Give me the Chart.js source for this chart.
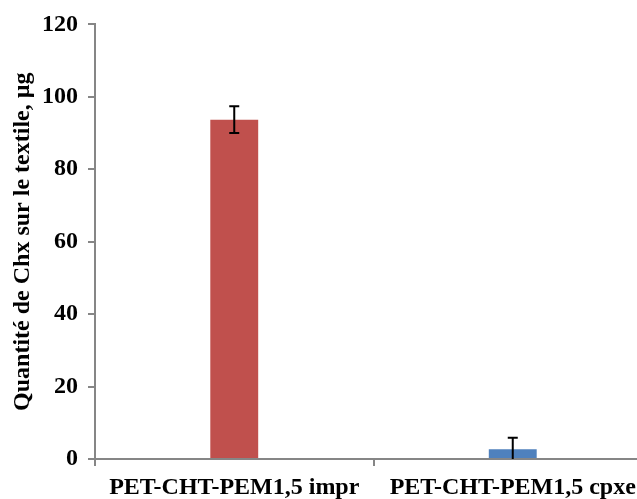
<!DOCTYPE html>
<html>
<head>
<meta charset="utf-8">
<script src="https://cdn.jsdelivr.net/npm/chart.js@4"></script>
<style>
    html, body { margin: 0; padding: 0; background: #fff; overflow: hidden; }
    #wrap { width: 652px; height: 499px; position: relative; }
</style>
</head>
<body>
<div id="wrap"><canvas id="barChart"></canvas></div>
<script>
const categories = ['PET-CHT-PEM1,5 impr', 'PET-CHT-PEM1,5 cpxe'];
const values = [93.7, 2.7];
const errors = [3.7, 3.2];
const barColors = ['#C0504D', '#4F81BD'];
const yTicks = [0, 20, 40, 60, 80, 100, 120];

const axisColor = '#868686';
const font = 'Liberation Serif';

// error bars drawn through the y scale
const errorBars = {
    id: 'errorBars',
    afterDatasetsDraw(chart) {
        const ctx = chart.ctx;
        const meta = chart.getDatasetMeta(0);
        const y = chart.scales.y;
        ctx.save();
        ctx.strokeStyle = '#000';
        ctx.lineWidth = 2;
        meta.data.forEach((bar, i) => {
            const top = y.getPixelForValue(values[i] + errors[i]);
            const low = Math.max(0, values[i] - errors[i]);
            const bottom = y.getPixelForValue(low);
            ctx.beginPath();
            ctx.moveTo(bar.x, top);
            ctx.lineTo(bar.x, bottom);
            ctx.moveTo(bar.x - 5, top);
            ctx.lineTo(bar.x + 5, top);
            if (low > 0) {
                ctx.moveTo(bar.x - 5, bottom);
                ctx.lineTo(bar.x + 5, bottom);
            }
            ctx.stroke();
        });
        ctx.restore();
    }
};

const ctx = document.getElementById('barChart').getContext('2d');
new Chart(ctx, {
    type: 'bar',
    data: {
        labels: categories,
        datasets: [{
            data: values,
            backgroundColor: barColors,
            categoryPercentage: 1,
            barPercentage: 0.172
        }]
    },
    options: {
        responsive: true,
        maintainAspectRatio: false,
        animation: false,
        layout: { padding: { top: 19, right: 0, left: 0, bottom: 0 } },
        plugins: {
            legend: { display: false },
            tooltip: { enabled: false }
        },
        scales: {
            x: {
                afterFit: scale => { scale.height = 40; },
                border: { color: axisColor, width: 2 },
                grid: { display: true, drawOnChartArea: false, drawTicks: true, tickLength: 7, color: axisColor, lineWidth: 2, offset: true },
                ticks: { color: '#000', padding: 7, font: { family: font, size: 24, weight: 'bold' }, maxRotation: 0 }
            },
            y: {
                min: 0,
                max: 120,
                afterFit: scale => { scale.width = 95; },
                afterBuildTicks: scale => { scale.ticks = yTicks.map(v => ({ value: v })); },
                border: { color: axisColor, width: 2 },
                grid: { display: true, drawOnChartArea: false, drawTicks: true, tickLength: 7, color: axisColor, lineWidth: 2 },
                ticks: { color: '#000', padding: 10, font: { family: font, size: 24, weight: 'bold' } },
                title: {
                    display: true,
                    text: 'Quantité de Chx sur le textile, µg',
                    color: '#000',
                    padding: { top: 8, bottom: 0 },
                    font: { family: font, size: 24, weight: 'bold' }
                }
            }
        }
    },
    plugins: [errorBars]
});
</script>
</body>
</html>
